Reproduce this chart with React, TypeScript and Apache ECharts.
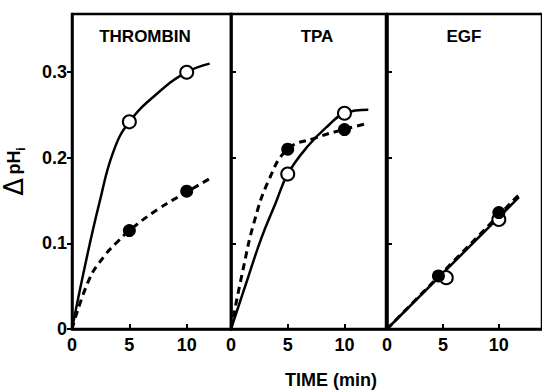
import React, { useEffect, useRef } from "react";
import * as echarts from "echarts";

const panelTitles = ["THROMBIN", "TPA", "EGF"];
const xTickLabels = ["0", "5", "10"];
const yTickValues = [0, 0.1, 0.2, 0.3];
const yTickLabels = ["0", "0.1", "0.2", "0.3"];
const xMaxByPanel = [13.86, 13.66, 13.86];
const yMax = 0.368;

// THROMBIN
const thrombinOpenPts = [[5, 0.242], [10, 0.3]];
const thrombinFilledPts = [[5, 0.115], [10, 0.161]];
const thrombinSolidCurve = [[0, 0], [1.2, 0.078], [2.4, 0.148], [3.6, 0.207], [5, 0.242], [7.5, 0.276], [10, 0.3], [12, 0.31]];
const thrombinDashedCurve = [[0, 0], [1.5, 0.058], [2.8, 0.085], [3.9, 0.101], [5, 0.115], [7.5, 0.14], [10, 0.16], [12.3, 0.178]];

// TPA
const tpaOpenPts = [[5, 0.181], [10, 0.252]];
const tpaFilledPts = [[5, 0.21], [10, 0.233]];
const tpaSolidCurve = [[0, 0], [1.3, 0.052], [2.7, 0.107], [3.9, 0.146], [5, 0.181], [6.8, 0.214], [8.6, 0.238], [10, 0.252], [12.1, 0.256]];
const tpaDashedCurve = [[0, 0], [1.1, 0.072], [2.0, 0.123], [3.3, 0.173], [5, 0.21], [7.4, 0.223], [9.9, 0.233], [12, 0.24]];

// EGF
const egfOpenPts = [[5.3, 0.06], [10, 0.128]];
const egfFilledPts = [[4.6, 0.062], [10, 0.136]];
const egfSolidCurve = [[0, 0], [11.8, 0.154]];
const egfDashedCurve = [[0, 0], [11.8, 0.157]];

const FONT = "'Liberation Sans', Arial, sans-serif";

export default function App() {
  const ref = useRef<HTMLDivElement>(null);
  useEffect(() => {
    if (!ref.current) return;
    const chart = echarts.init(ref.current, undefined, { renderer: "svg" });
    const grids = [
      { left: 72, top: 14, width: 159, height: 315 },
      { left: 231, top: 14, width: 155, height: 315 },
      { left: 387, top: 14, width: 158, height: 315 },
    ].map((g) => ({ ...g, show: true, borderColor: "#000", borderWidth: 2.5, backgroundColor: "transparent" }));

    const xAxes = [0, 1, 2].map((i) => ({
      type: "value",
      gridIndex: i,
      min: 0,
      max: xMaxByPanel[i],
      interval: 5,
      splitLine: { show: false },
      axisLine: { show: true, lineStyle: { color: "#000", width: 2.5 } },
      axisTick: { show: true, inside: true, length: 5, lineStyle: { color: "#000", width: 2 } },
      axisLabel: {
        showMaxLabel: false,
        margin: 7,
        color: "#000",
        fontFamily: FONT,
        fontWeight: "bold",
        fontSize: 18,
        formatter: (v: number) => xTickLabels[Math.round(v / 5)] ?? "",
      },
    }));

    const yAxes = [0, 1, 2].map((i) => ({
      type: "value",
      gridIndex: i,
      min: 0,
      max: yMax,
      interval: 0.1,
      splitLine: { show: false },
      axisLine: { show: true, lineStyle: { color: "#000", width: 2.5 } },
      axisTick: { show: true, inside: i !== 0, length: 5, lineStyle: { color: "#000", width: 2 } },
      axisLabel: {
        show: i === 0,
        showMaxLabel: false,
        margin: 5,
        color: "#000",
        fontFamily: FONT,
        fontWeight: "bold",
        fontSize: 18,
        formatter: (v: number) => {
          const idx = yTickValues.findIndex((t) => Math.abs(t - v) < 1e-6);
          return idx >= 0 ? yTickLabels[idx] : "";
        },
      },
      ...(i === 0
        ? {
            name: "{d|\u0394} {p|pH}{s|i}",
            nameLocation: "middle",
            nameRotate: 90,
            nameGap: 45,
            nameTextStyle: {
              color: "#000",
              rich: {
                d: { fontSize: 26, fontFamily: "'DejaVu Sans', sans-serif", color: "#000" },
                p: { fontSize: 18, fontWeight: "bold", fontFamily: FONT, color: "#000" },
                s: { fontSize: 12, fontWeight: "bold", fontFamily: FONT, color: "#000", verticalAlign: "bottom", padding: [8, 0, 0, 0] },
              },
            },
          }
        : {}),
    }));

    const curve = (data: number[][], idx: number, dashed: boolean) => ({
      type: "line",
      xAxisIndex: idx,
      yAxisIndex: idx,
      data,
      smooth: 0.45,
      showSymbol: false,
      symbol: "none",
      lineStyle: { color: "#000", width: dashed ? 3 : 2.5, type: dashed ? [7, 5] : "solid" },
      z: 2,
    });
    const pts = (data: number[][], idx: number, open: boolean, z: number) => ({
      type: "scatter",
      xAxisIndex: idx,
      yAxisIndex: idx,
      data,
      symbol: "circle",
      symbolSize: 13,
      itemStyle: { color: open ? "#fff" : "#000", borderColor: "#000", borderWidth: open ? 2 : 0, opacity: 1 },
      z,
    });

    const series = [
      curve(thrombinSolidCurve, 0, false),
      curve(thrombinDashedCurve, 0, true),
      pts(thrombinFilledPts, 0, false, 3),
      pts(thrombinOpenPts, 0, true, 4),
      curve(tpaSolidCurve, 1, false),
      curve(tpaDashedCurve, 1, true),
      pts(tpaFilledPts, 1, false, 3),
      pts(tpaOpenPts, 1, true, 4),
      curve(egfSolidCurve, 2, false),
      curve(egfDashedCurve, 2, true),
      pts(egfOpenPts, 2, true, 3),
      pts(egfFilledPts, 2, false, 4),
    ];

    const titleX = [145, 317, 464];
    const graphic: any[] = panelTitles.map((t, i) => ({
      type: "text",
      x: titleX[i],
      y: 36,
      style: { text: t, fill: "#000", font: `bold 17px ${FONT}`, textAlign: "center", textVerticalAlign: "middle" },
      z: 10,
    }));
    graphic.push({
      type: "text",
      x: 331,
      y: 380,
      style: { text: "TIME (min)", fill: "#000", font: `bold 18px ${FONT}`, textAlign: "center", textVerticalAlign: "middle" },
      z: 10,
    });

    chart.setOption({
      animation: false,
      backgroundColor: "#fff",
      grid: grids,
      xAxis: xAxes,
      yAxis: yAxes,
      series,
      graphic,
    });
    return () => chart.dispose();
  }, []);
  return <div ref={ref} style={{ position: "fixed", left: 0, top: 0, width: 542, height: 390 }} />;
}
